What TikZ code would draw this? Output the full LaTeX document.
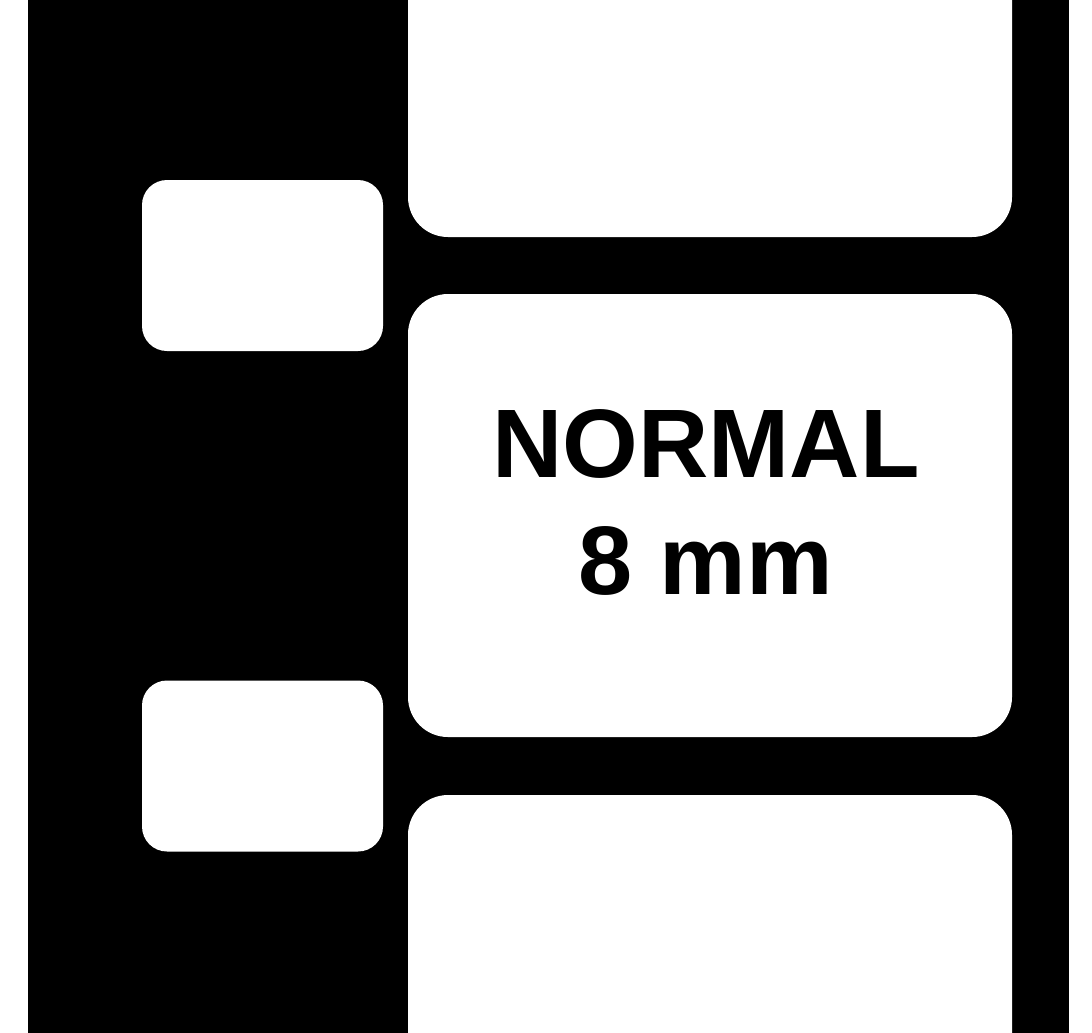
\documentclass[tikz,border=0pt]{standalone}
\usepackage{fontspec}
\setmainfont{Liberation Sans}
\usetikzlibrary{positioning}
\usepackage{xcolor}
\definecolor{filmblack}{HTML}{000000}

\begin{document}
\begin{tikzpicture}[
  frame/.style={fill=white, draw=none, rounded corners=0.4cm,
                minimum width=6.04cm, minimum height=4.43cm,
                inner sep=0pt, outer sep=0pt},
  perf/.style={fill=white, draw=none, rounded corners=0.25cm,
               minimum width=2.41cm, minimum height=1.71cm,
               inner sep=0pt, outer sep=0pt},
  caption/.style={font=\bfseries\fontsize{27.7}{33.3}\selectfont, align=center,
                  inner sep=0pt}
]
  \useasboundingbox (0,0) rectangle (10.92,10.32);
  \clip (0,0) rectangle (10.92,10.32);

  % Strip
  \fill[filmblack] (0.28,-0.1) rectangle (10.69,10.42);

  % Frames
  \node[frame] (top) at (7.10,10.165) {};
  \node[frame] (mid) at (7.10,5.165)  {};
  \node[frame] (bot) at (7.10,0.155)  {};

  % Perforations
  \node[perf] (p1) at (2.625,7.665) {};
  \node[perf] (p2) at (2.625,2.66)  {};

  % Label in the middle frame
  \node[caption] (lbl) at (7.06,5.30) {NORMAL\\8 mm};
\end{tikzpicture}
\end{document}
